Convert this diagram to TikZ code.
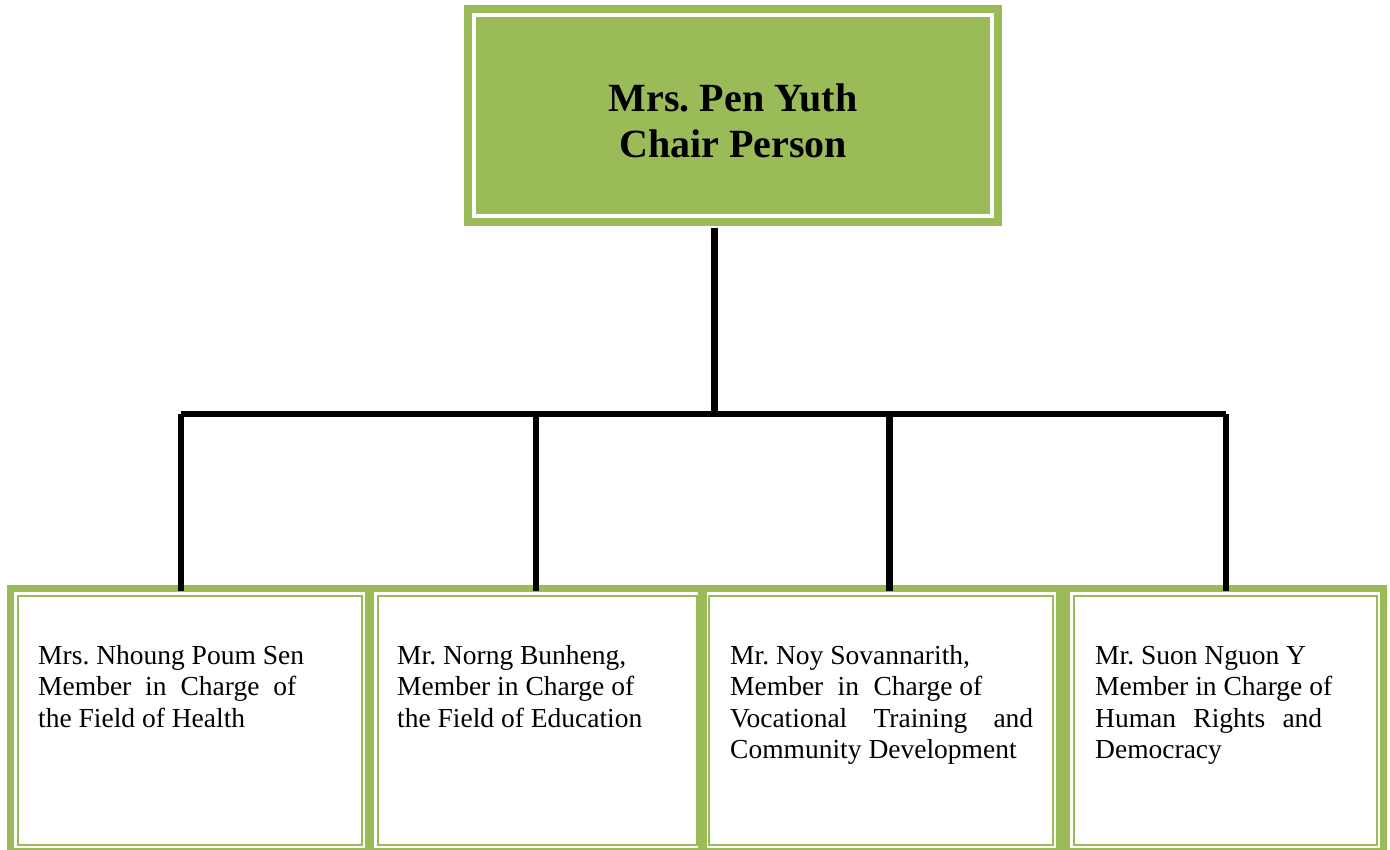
\documentclass[tikz,border=0pt]{standalone}
\usepackage{fontspec}
\setmainfont{Liberation Serif}
\definecolor{ogreen}{HTML}{9BBB59}
\newcommand\stretchline[2]{\makebox[#1][s]{#2}}
\frenchspacing
\begin{document}
\begin{tikzpicture}[x=1pt,y=-1pt,
  chairbox/.style={fill=ogreen, minimum width=538pt, minimum height=221pt, inner sep=0pt, outer sep=0pt, font=\fontsize{40pt}{46.5pt}\selectfont\bfseries},
  memberbox/.style={draw=ogreen, line width=7pt, outer sep=0pt, inner sep=0pt, minimum height=263pt},
  innerline/.style={draw=ogreen, line width=2pt},
  whiteline/.style={draw=white, line width=4pt},
  membertext/.style={anchor=base west, inner sep=0pt, font=\fontsize{27.5pt}{31.5pt}\selectfont},
  conn/.style={draw=black, line width=6.5pt}]
\useasboundingbox (0,0) rectangle (1390,850);
\clip (0,0) rectangle (1390,850);

% chair box
\node[chairbox] (chair) at (733,115.5) {\raisebox{-16pt}[0pt][0pt]{\begin{tabular}{@{}c@{}}Mrs. Pen Yuth\\Chair Person\end{tabular}}};
\draw[whiteline] ([shift={(10,10)}]chair.north west) rectangle ([shift={(-10,-10)}]chair.south east);

% member boxes
\node[memberbox, minimum width=358pt] (b1) at (189.5,720) {};
\node[memberbox, minimum width=333pt] (b2) at (537,720) {};
\node[memberbox, minimum width=358pt] (b3) at (880.5,720) {};
\node[memberbox, minimum width=317pt] (b4) at (1225,720) {};
\foreach \b in {b1,b2,b3,b4}
  \draw[innerline] ([shift={(7,7)}]\b.north west) rectangle ([shift={(-7,-7)}]\b.south east);

% member texts
\node[membertext] (t1) at (38,664) {\parbox[t]{320pt}{Mrs. Nhoung Poum Sen\\
  \stretchline{258pt}{Member in Charge of}\\
  the Field of Health}};
\node[membertext] (t2) at (397,664) {\parbox[t]{300pt}{Mr. Norng Bunheng,\\
  Member in Charge of\\
  the Field of Education}};
\node[membertext] (t3) at (730,664) {\parbox[t]{320pt}{Mr. Noy Sovannarith,\\
  \stretchline{252pt}{Member in \mbox{Charge of}}\\
  \stretchline{303pt}{Vocational Training and}\\
  Community Development}};
\node[membertext] (t4) at (1095,664) {\parbox[t]{280pt}{Mr. Suon Nguon Y\\
  Member in Charge of\\
  \stretchline{227pt}{Human Rights and}\\
  Democracy}};

% connectors
\coordinate (hub) at (714.5,414);
\coordinate (j1) at (181,414);
\coordinate (j2) at (536,414);
\coordinate (j3) at (889.5,414);
\coordinate (j4) at (1226,414);
\draw[conn] ([yshift=-2pt]hub |- chair.south) -- (hub);
\draw[conn] (j1) -- (j4);
\foreach \j/\b in {j1/b1,j2/b2,j3/b3,j4/b4}
  \draw[conn, shorten >=-2.5pt] (\j) -- (\j |- \b.north);
\end{tikzpicture}
\end{document}
